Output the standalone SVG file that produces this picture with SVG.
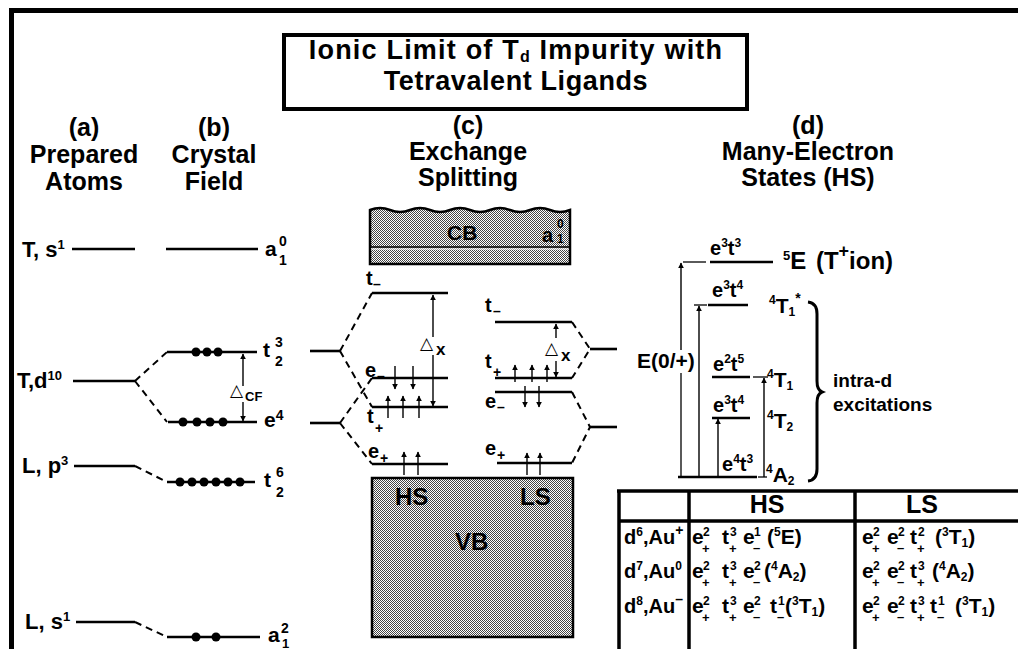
<svg xmlns="http://www.w3.org/2000/svg" width="1018" height="649" viewBox="0 0 1018 649">
<defs>
<style>
text{font-family:"Liberation Sans",Arial,sans-serif;font-weight:bold;fill:#000}
.hd{font-size:25px;text-anchor:middle}
.ttl{font-size:27px}
.lb{font-size:22px}
.c20{font-size:20px}
.c21{font-size:21px}
.c12{font-size:12px}
.c13{font-size:13px}
.c14{font-size:14px}
.tri{font-family:"DejaVu Sans",sans-serif;font-weight:normal;font-size:17px}
.lv{stroke:#000;stroke-width:2.6;fill:none}
.dl{stroke:#000;stroke-width:2;stroke-dasharray:7 5;fill:none}
.ar{stroke:#000;stroke-width:1.4;fill:none;marker-end:url(#ah)}
.th{stroke:#000;stroke-width:1.3;fill:none}
.tl{stroke:#000;stroke-width:3.5;fill:none}
.band{fill:url(#dots);stroke:#000;stroke-width:2.5}
</style>
<pattern id="dots" width="2" height="2" patternUnits="userSpaceOnUse"><rect width="2" height="2" fill="#fff"/><rect width="1" height="1" fill="#444"/><rect x="1" y="1" width="1" height="1" fill="#444"/></pattern>
<marker id="ah" viewBox="0 0 10 10" refX="9" refY="5" markerWidth="6" markerHeight="7" markerUnits="userSpaceOnUse" orient="auto"><path d="M0,0 L10,5 L0,10 z" fill="#000"/></marker>
</defs>
<rect width="1018" height="649" fill="#fff"/>
<path d="M11.5,649 V10.5 H1018" fill="none" stroke="#000" stroke-width="5"/>

<g id="title">
<rect x="284" y="35" width="463" height="74" fill="none" stroke="#000" stroke-width="4"/>
<text class="ttl" x="516" y="59" text-anchor="middle" letter-spacing="1.2">Ionic Limit of T<tspan font-size="16px" dy="3">d</tspan><tspan dy="-3"> Impurity with</tspan></text>
<text class="ttl" x="516" y="90" text-anchor="middle" letter-spacing="0.6">Tetravalent Ligands</text>
</g>

<g id="headers">
<text class="hd" x="84" y="136">(a)</text>
<text class="hd" x="84" y="163">Prepared</text>
<text class="hd" x="84" y="190">Atoms</text>
<text class="hd" x="214" y="136">(b)</text>
<text class="hd" x="214" y="163">Crystal</text>
<text class="hd" x="214" y="190">Field</text>
<text class="hd" x="468" y="134">(c)</text>
<text class="hd" x="468" y="160">Exchange</text>
<text class="hd" x="468" y="186">Splitting</text>
<text class="hd" x="808" y="134">(d)</text>
<text class="hd" x="808" y="160">Many-Electron</text>
<text class="hd" x="808" y="186">States (HS)</text>
</g>

<!-- (a) prepared atoms -->
<g id="a-Ts1">
<text class="lb" x="22" y="257">T, s<tspan class="c13" dy="-8">1</tspan></text>
<line class="lv" x1="72" y1="249" x2="135" y2="249"/>
</g>
<g id="a-Td10">
<text class="lb" x="17" y="388">T,d<tspan class="c13" dy="-8">10</tspan></text>
<line class="lv" x1="73" y1="381" x2="135" y2="381"/>
</g>
<g id="a-Lp3">
<text class="lb" x="22" y="473">L, p<tspan class="c13" dy="-8">3</tspan></text>
<line class="lv" x1="74" y1="466" x2="135" y2="466"/>
</g>
<g id="a-Ls1">
<text class="lb" x="25" y="629">L, s<tspan class="c13" dy="-8">1</tspan></text>
<line class="lv" x1="76" y1="622" x2="135" y2="622"/>
</g>

<!-- (b) crystal field -->
<g id="b-a1-0">
<line class="lv" x1="166" y1="249" x2="258" y2="249"/>
<text class="c21" x="265" y="256">a</text>
<text class="c14" x="279" y="246">0</text>
<text class="c14" x="279" y="265">1</text>
</g>
<g id="b-t2-3">
<line class="lv" x1="167" y1="352" x2="257" y2="352"/>
<circle cx="196" cy="352" r="4.5"/><circle cx="207" cy="352" r="4.5"/><circle cx="218" cy="352" r="4.5"/>
<text class="c21" x="263" y="357">t</text>
<text class="c14" x="275" y="347">3</text>
<text class="c14" x="275" y="366">2</text>
</g>
<g id="b-e4">
<line class="lv" x1="168" y1="422" x2="257" y2="422"/>
<circle cx="183" cy="422" r="4.5"/><circle cx="197" cy="422" r="4.5"/><circle cx="210" cy="422" r="4.5"/><circle cx="223" cy="422" r="4.5"/>
<text class="c21" x="264" y="427">e<tspan class="c14" dy="-7">4</tspan></text>
</g>
<g id="b-t2-6">
<line class="lv" x1="167" y1="482" x2="255" y2="482"/>
<circle cx="180" cy="482" r="4.5"/><circle cx="192" cy="482" r="4.5"/><circle cx="204" cy="482" r="4.5"/><circle cx="216" cy="482" r="4.5"/><circle cx="228" cy="482" r="4.5"/><circle cx="240" cy="482" r="4.5"/>
<text class="c21" x="264" y="487">t</text>
<text class="c14" x="276" y="477">6</text>
<text class="c14" x="276" y="497">2</text>
</g>
<g id="b-a1-2">
<line class="lv" x1="167" y1="637" x2="260" y2="637"/>
<circle cx="196" cy="637" r="4.5"/><circle cx="216" cy="637" r="4.5"/>
<text class="c21" x="268" y="642">a</text>
<text class="c14" x="281" y="633">2</text>
<text class="c13" x="282" y="648">1</text>
</g>
<g id="b-dcf">
<text class="tri" x="230" y="396">△</text>
<text class="c13" x="245" y="401">CF</text>
</g>

<!-- (c) exchange splitting -->
<g id="c-CB">
<path class="band" stroke-width="2" d="M370,264 V210 q10,-4 20,0 t20,0 t20,0 t20,0 t20,0 t20,0 t20,0 t20,0 t20,0 t20,0 V264 Z"/>
<line x1="371" y1="247" x2="569" y2="247" stroke="#000" stroke-width="1.3"/>
<line x1="371" y1="249" x2="569" y2="249" stroke="#fff" stroke-width="1"/>
<text class="c21" x="447" y="240">CB</text>
<text class="c20" x="542" y="242">a</text>
<text class="c12" x="557" y="228">0</text>
<text class="c12" x="557" y="243">1</text>
</g>
<g id="c-VB">
<rect class="band" x="372" y="478" width="201" height="159"/>
<text style="font-size:24px" x="395" y="505">HS</text>
<text style="font-size:24px" x="520" y="505">LS</text>
<text style="font-size:24px" x="455" y="550">VB</text>
</g>
<g id="c-node-t"><line class="lv" x1="310" y1="351" x2="340" y2="351"/></g>
<g id="c-node-e"><line class="lv" x1="310" y1="423" x2="340" y2="423"/></g>
<g id="c-node-t-ls"><line class="lv" x1="590" y1="349" x2="617" y2="349"/></g>
<g id="c-node-e-ls"><line class="lv" x1="590" y1="427" x2="617" y2="427"/></g>

<g id="hs-tm">
<line class="lv" x1="372" y1="293" x2="448" y2="293"/>
<text class="c20" x="366" y="285">t</text><text class="c14" x="373" y="289">–</text>
</g>
<g id="hs-em">
<line class="lv" x1="372" y1="378" x2="448" y2="378"/>
<text class="c20" x="365" y="377">e</text><text class="c14" x="377" y="381">–</text>
</g>
<g id="hs-tp">
<line class="lv" x1="372" y1="407" x2="448" y2="407"/>
<text class="c20" x="367" y="423">t</text><text class="c14" x="375" y="433">+</text>
</g>
<g id="hs-ep">
<line class="lv" x1="372" y1="464" x2="448" y2="464"/>
<text class="c20" x="368" y="458">e</text><text class="c14" x="380" y="463">+</text>
</g>
<g id="hs-dx">
<text class="tri" x="420" y="349">△</text><text style="font-size:17px" x="436" y="355">x</text>
</g>
<g id="ls-tm">
<line class="lv" x1="495" y1="322" x2="572" y2="322"/>
<text class="c20" x="485" y="312">t</text><text class="c14" x="493" y="316">–</text>
</g>
<g id="ls-tp">
<line class="lv" x1="495" y1="378" x2="572" y2="378"/>
<text class="c20" x="485" y="368">t</text><text class="c14" x="493" y="377">+</text>
</g>
<g id="ls-em">
<line class="lv" x1="495" y1="392" x2="572" y2="392"/>
<text class="c20" x="485" y="408">e</text><text class="c14" x="497" y="412">–</text>
</g>
<g id="ls-ep">
<line class="lv" x1="497" y1="463" x2="572" y2="463"/>
<text class="c20" x="485" y="455">e</text><text class="c14" x="497" y="460">+</text>
</g>
<g id="ls-dx">
<text class="tri" x="545" y="354">△</text><text style="font-size:17px" x="561" y="361">x</text>
</g>

<!-- (d) many-electron states -->
<g id="d-5E">
<line class="lv" x1="710" y1="262" x2="773" y2="262"/>
<text class="c20" x="710" y="255">e<tspan class="c12" dy="-8">3</tspan><tspan dy="8">t</tspan><tspan class="c12" dy="-8">3</tspan></text>
<text style="font-size:24px" x="783" y="269" word-spacing="3"><tspan class="c13" dy="-9">5</tspan><tspan dy="9">E (T</tspan><tspan style="font-size:18px" dy="-12">+</tspan><tspan dy="12">ion)</tspan></text>
</g>
<g id="d-4T1s">
<line class="lv" x1="708" y1="305" x2="748" y2="305"/>
<text class="c20" x="712" y="297">e<tspan class="c12" dy="-8">3</tspan><tspan dy="8">t</tspan><tspan class="c12" dy="-8">4</tspan></text>
<text class="c21" x="769" y="313"><tspan class="c12" dy="-9">4</tspan><tspan dy="9">T</tspan><tspan class="c12" dy="3">1</tspan><tspan class="c14" dy="-13">*</tspan></text>
</g>
<g id="d-4T1">
<line class="lv" x1="712" y1="377" x2="750" y2="377"/>
<text class="c20" x="713" y="371">e<tspan class="c12" dy="-8">2</tspan><tspan dy="8">t</tspan><tspan class="c12" dy="-8">5</tspan></text>
<text class="c21" x="767" y="387"><tspan class="c12" dy="-9">4</tspan><tspan dy="9">T</tspan><tspan class="c12" dy="3">1</tspan></text>
</g>
<g id="d-4T2">
<line class="lv" x1="712" y1="418" x2="750" y2="418"/>
<text class="c20" x="713" y="412">e<tspan class="c12" dy="-8">3</tspan><tspan dy="8">t</tspan><tspan class="c12" dy="-8">4</tspan></text>
<text class="c21" x="767" y="428"><tspan class="c12" dy="-9">4</tspan><tspan dy="9">T</tspan><tspan class="c12" dy="3">2</tspan></text>
</g>
<g id="d-4A2">
<line class="lv" x1="678" y1="477" x2="757" y2="477"/>
<text class="c20" x="722" y="471">e<tspan class="c12" dy="-8">4</tspan><tspan dy="8">t</tspan><tspan class="c12" dy="-8">3</tspan></text>
<text class="c21" x="766" y="482"><tspan class="c12" dy="-9">4</tspan><tspan dy="9">A</tspan><tspan class="c12" dy="3">2</tspan></text>
</g>
<g id="d-E0">
<text class="c21" x="637" y="368">E(0/+)</text>
</g>
<g id="d-brace">
<path d="M808,302 q9,1 9,12 V381 q0,9 5,11 q-5,2 -5,11 V469 q0,11 -9,12" fill="none" stroke="#000" stroke-width="3"/>
<text style="font-size:19px" x="833" y="387">intra-d</text>
<text style="font-size:19px" x="833" y="411">excitations</text>
</g>

<!-- table -->
<g id="table">
<line class="tl" x1="617" y1="491" x2="1018" y2="491"/>
<line class="tl" x1="619" y1="491" x2="619" y2="649"/>
<line class="tl" x1="689" y1="491" x2="689" y2="649"/>
<line class="tl" x1="855" y1="491" x2="855" y2="649"/>
<line class="tl" x1="619" y1="521" x2="1018" y2="521"/>
<text style="font-size:25px" x="767" y="513" text-anchor="middle">HS</text>
<text style="font-size:25px" x="922" y="513" text-anchor="middle">LS</text>

<text class="c20" x="624" y="544">d<tspan class="c12" dy="-8">6</tspan><tspan dy="8">,Au</tspan><tspan class="c14" dy="-9">+</tspan></text>
<text class="c20" x="624" y="578">d<tspan class="c12" dy="-8">7</tspan><tspan dy="8">,Au</tspan><tspan class="c12" dy="-8">0</tspan></text>
<text class="c20" x="624" y="613">d<tspan class="c12" dy="-8">8</tspan><tspan dy="8">,Au</tspan><tspan class="c14" dy="-9">–</tspan></text>

<!-- HS row 1 -->
<text class="c21" x="692" y="544">e</text><text class="c12" x="703" y="536">2</text><text class="c13" x="702" y="553">+</text>
<text class="c21" x="722" y="544">t</text><text class="c12" x="730" y="536">3</text><text class="c13" x="729" y="553">+</text>
<text class="c21" x="743" y="544">e</text><text class="c12" x="754" y="536">1</text><text class="c13" x="753" y="552">–</text>
<text class="c21" x="767" y="544">(<tspan class="c12" dy="-8">5</tspan><tspan dy="8">E)</tspan></text>
<!-- HS row 2 -->
<text class="c21" x="692" y="578">e</text><text class="c12" x="703" y="570">2</text><text class="c13" x="702" y="587">+</text>
<text class="c21" x="722" y="578">t</text><text class="c12" x="730" y="570">3</text><text class="c13" x="729" y="587">+</text>
<text class="c21" x="743" y="578">e</text><text class="c12" x="754" y="570">2</text><text class="c13" x="753" y="586">–</text>
<text class="c21" x="764" y="578">(<tspan class="c12" dy="-8">4</tspan><tspan dy="8">A</tspan><tspan class="c12" dy="3">2</tspan><tspan dy="-3">)</tspan></text>
<!-- HS row 3 -->
<text class="c21" x="692" y="613">e</text><text class="c12" x="703" y="605">2</text><text class="c13" x="702" y="622">+</text>
<text class="c21" x="722" y="613">t</text><text class="c12" x="730" y="605">3</text><text class="c13" x="729" y="622">+</text>
<text class="c21" x="743" y="613">e</text><text class="c12" x="754" y="605">2</text><text class="c13" x="753" y="621">–</text>
<text class="c21" x="770" y="613">t</text><text class="c12" x="778" y="605">1</text><text class="c13" x="777" y="621">–</text>
<text class="c21" x="785" y="613">(<tspan class="c12" dy="-8">3</tspan><tspan dy="8">T</tspan><tspan class="c12" dy="3">1</tspan><tspan dy="-3">)</tspan></text>
<!-- LS row 1 -->
<text class="c21" x="862" y="544">e</text><text class="c12" x="873" y="536">2</text><text class="c13" x="872" y="553">+</text>
<text class="c21" x="887" y="544">e</text><text class="c12" x="898" y="536">2</text><text class="c13" x="897" y="552">–</text>
<text class="c21" x="910" y="544">t</text><text class="c12" x="918" y="536">2</text><text class="c13" x="917" y="553">+</text>
<text class="c21" x="935" y="544">(<tspan class="c12" dy="-8">3</tspan><tspan dy="8">T</tspan><tspan class="c12" dy="3">1</tspan><tspan dy="-3">)</tspan></text>
<!-- LS row 2 -->
<text class="c21" x="862" y="578">e</text><text class="c12" x="873" y="570">2</text><text class="c13" x="872" y="587">+</text>
<text class="c21" x="887" y="578">e</text><text class="c12" x="898" y="570">2</text><text class="c13" x="897" y="586">–</text>
<text class="c21" x="910" y="578">t</text><text class="c12" x="918" y="570">3</text><text class="c13" x="917" y="587">+</text>
<text class="c21" x="932" y="578">(<tspan class="c12" dy="-8">4</tspan><tspan dy="8">A</tspan><tspan class="c12" dy="3">2</tspan><tspan dy="-3">)</tspan></text>
<!-- LS row 3 -->
<text class="c21" x="862" y="613">e</text><text class="c12" x="873" y="605">2</text><text class="c13" x="872" y="622">+</text>
<text class="c21" x="887" y="613">e</text><text class="c12" x="898" y="605">2</text><text class="c13" x="897" y="621">–</text>
<text class="c21" x="910" y="613">t</text><text class="c12" x="918" y="605">3</text><text class="c13" x="917" y="622">+</text>
<text class="c21" x="930" y="613">t</text><text class="c12" x="938" y="605">1</text><text class="c13" x="937" y="621">–</text>
<text class="c21" x="955" y="613">(<tspan class="c12" dy="-8">3</tspan><tspan dy="8">T</tspan><tspan class="c12" dy="3">1</tspan><tspan dy="-3">)</tspan></text>
</g>

<g id="connectors">
<!-- (a)->(b) -->
<path class="dl" d="M135,381 L167,352 M135,381 L167,422 M135,466 L167,482 M135,622 L167,637"/>
<!-- (c) left -->
<path class="dl" d="M340,351 L372,293 M340,351 L372,407 M340,423 L372,378 M340,423 L372,464"/>
<!-- (c) right -->
<path class="dl" d="M572,322 L590,349 L572,378 M572,392 L590,427 L572,463"/>
<!-- Delta CF -->
<line class="ar" x1="243" y1="386" x2="243" y2="354"/>
<line class="ar" x1="243" y1="402" x2="243" y2="421"/>
<!-- Delta x HS -->
<line class="ar" x1="433" y1="337" x2="433" y2="295"/>
<line class="ar" x1="433" y1="355" x2="433" y2="406"/>
<!-- Delta x LS -->
<line class="ar" x1="556" y1="338" x2="556" y2="324"/>
<line class="ar" x1="556" y1="361" x2="556" y2="377"/>
<!-- electrons HS -->
<line class="ar" x1="395" y1="366" x2="395" y2="389"/>
<line class="ar" x1="413" y1="366" x2="413" y2="389"/>
<line class="ar" x1="388" y1="418" x2="388" y2="396"/>
<line class="ar" x1="403" y1="418" x2="403" y2="396"/>
<line class="ar" x1="419" y1="418" x2="419" y2="396"/>
<line class="ar" x1="404" y1="475" x2="404" y2="452"/>
<line class="ar" x1="418" y1="475" x2="418" y2="452"/>
<!-- electrons LS -->
<line class="ar" x1="515" y1="382" x2="515" y2="365"/>
<line class="ar" x1="532" y1="382" x2="532" y2="365"/>
<line class="ar" x1="547" y1="382" x2="547" y2="365"/>
<line class="ar" x1="525" y1="386" x2="525" y2="407"/>
<line class="ar" x1="539" y1="386" x2="539" y2="407"/>
<line class="ar" x1="527" y1="475" x2="527" y2="453"/>
<line class="ar" x1="540" y1="475" x2="540" y2="453"/>
<!-- (d) transitions -->
<line class="th" x1="681" y1="477" x2="681" y2="373"/>
<line class="ar" x1="681" y1="350" x2="681" y2="263"/>
<line class="ar" x1="699" y1="477" x2="699" y2="306"/>
<line class="ar" x1="718" y1="477" x2="718" y2="419"/>
<line class="ar" x1="764" y1="477" x2="764" y2="378"/>
<line class="th" x1="683" y1="262" x2="706" y2="262"/>
<line class="th" x1="694" y1="305" x2="707" y2="305"/>
<line class="th" x1="753" y1="377" x2="768" y2="377"/>
<line class="th" x1="758" y1="477" x2="767" y2="477"/>
</g>
</svg>
